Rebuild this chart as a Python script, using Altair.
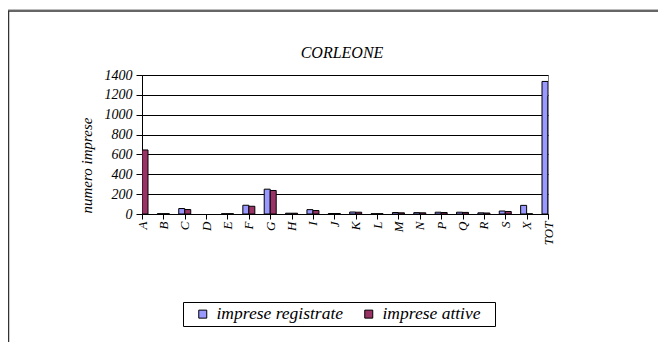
import altair as alt
import pandas as pd

categories = ["A", "B", "C", "D", "E", "F", "G", "H", "I", "J", "K", "L", "M", "N", "P", "Q", "R", "S", "X", "TOT"]
registrate = [658, 3, 55, None, 3, 88, 250, 8, 44, 5, 20, 3, 15, 14, 18, 18, 12, 30, 87, 1335]
attive = [645, 3, 45, None, 3, 78, 237, 8, 35, 5, 18, 3, 12, 12, 15, 16, 10, 25, 2, 1187]
series = ["imprese registrate", "imprese attive"]
colors = ["#9999FF", "#993366"]
y_ticks = [0, 200, 400, 600, 800, 1000, 1200, 1400]

rows = []
for c, r, a in zip(categories, registrate, attive):
    rows.append({"cat": c, "serie": series[0], "val": r})
    rows.append({"cat": c, "serie": series[1], "val": a})
df = pd.DataFrame(rows)

FONT = "Liberation Serif"

x_enc = alt.X(
    "cat:N", sort=categories,
    scale=alt.Scale(type="point", padding=0),
    axis=alt.Axis(title=None, labelAngle=270, tickSize=5, labelPadding=2,
                  labelFontSize=13, grid=False),
)
y_enc = alt.Y(
    "val:Q", scale=alt.Scale(domain=[0, 1400]),
    axis=alt.Axis(values=y_ticks, format="d", title="numero imprese", grid=True,
                  gridColor="black", gridWidth=1, tickSize=6, labelPadding=4,
                  labelFontSize=14, titleFontSize=15, titleAngle=270, titleX=-56,
                  titleY=90, titleAlign="center", titleBaseline="middle"),
)
color_enc = alt.Color(
    "serie:N", scale=alt.Scale(domain=series, range=colors),
    legend=alt.Legend(orient="none", legendX=41, legendY=227, direction="horizontal",
                      title="\u00a0", titleOrient="right", titleFontSize=2, titlePadding=11,
                      strokeColor="black", fillColor="white", padding=3,
                      symbolType="square", symbolSize=64, symbolStrokeColor="black",
                      symbolStrokeWidth=1, labelFont=FONT, labelFontStyle="italic",
                      labelFontSize=17.5, symbolOffset=8, columnPadding=8, labelOffset=5),
)

base = alt.Chart(df).encode(x=x_enc, y=y_enc, color=color_enc)
blue = base.transform_filter(alt.datum.serie == series[0]).mark_bar(
    size=6, xOffset=-3, stroke="black", strokeWidth=1, clip=True)
red = base.transform_filter(alt.datum.serie == series[1]).mark_bar(
    size=6, xOffset=3, stroke="black", strokeWidth=1, clip=True)

frame_df = pd.DataFrame({"k": [0]})
top_rule = alt.Chart(frame_df).mark_rule(color="#333333", strokeWidth=1.5).encode(
    x=alt.value(-134), x2=alt.value(560), y=alt.value(-64))
top_rule2 = alt.Chart(frame_df).mark_rule(color="#bbbbbb", strokeWidth=1).encode(
    x=alt.value(-134), x2=alt.value(560), y=alt.value(-65.5))
left_rule = alt.Chart(frame_df).mark_rule(color="#333333", strokeWidth=1.5).encode(
    x=alt.value(-133.5), y=alt.value(-64), y2=alt.value(300))

chart = alt.layer(top_rule2, top_rule, left_rule, blue, red).properties(
    width=406, height=139,
    autosize=alt.AutoSizeParams(type="none"),
    padding={"left": 134, "top": 67, "right": 110, "bottom": 128},
    title=alt.Title("CORLEONE", fontSize=16, fontStyle="italic", font=FONT,
                    fontWeight="normal", anchor="middle", offset=12, frame="group",
                    dy=64, dx=-3),
).configure(
    font=FONT,
).configure_view(
    stroke="#808080", strokeWidth=1,
).configure_axis(
    domainColor="black", tickColor="black", labelColor="black", titleColor="black",
    labelFont=FONT, titleFont=FONT, labelFontStyle="italic", titleFontStyle="italic",
    titleFontWeight="normal",
).configure_title(color="black")

chart.save("out.html", embed_options={"renderer": "svg", "actions": False})
